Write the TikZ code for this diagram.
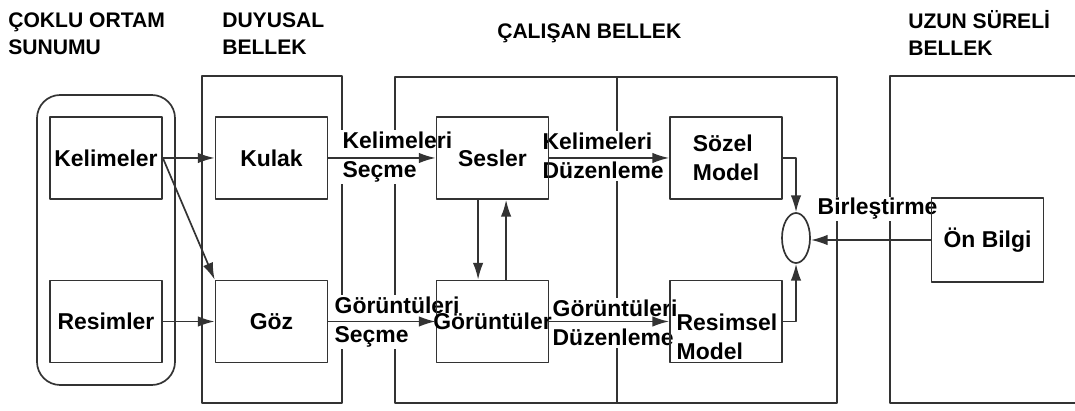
\documentclass[tikz,border=0pt]{standalone}
\usepackage{fontspec}
\setmainfont{Liberation Sans}
\usetikzlibrary{arrows.meta,shapes.geometric}

\begin{document}
\begin{tikzpicture}[x=0.025cm,y=-0.025cm,line join=round,>={Latex[length=12pt,width=7.5pt]}]
	\tikzset{col/.style={draw=black!80,line width=1.2pt},
		arr/.style={->,draw=black!80,line width=1.2pt},
		box/.style={draw=black!80,line width=1.2pt,minimum width=2.8cm,minimum height=2.05cm,inner sep=1pt,align=left,font=\fontsize{16.3}{21}\selectfont\bfseries},
		lbl/.style={fill=white,inner sep=1pt,align=left,anchor=west,font=\fontsize{16.3}{21}\selectfont\bfseries},
		hdr/.style={inner sep=0pt,align=left,anchor=west,font=\fontsize{15}{19.2}\selectfont\bfseries}}
	\clip (0,0) rectangle (1075,411);
	% headers
	\node[hdr] (coklu) at (8,34) {ÇOKLU ORTAM\\SUNUMU};
	\node[hdr] (duyusal) at (222,34) {DUYUSAL\\BELLEK};
	\node[hdr] (calisan) at (497,33) {ÇALIŞAN BELLEK};
	\node[hdr] (uzun) at (908,33) {UZUN SÜRELİ\\BELLEK};
	% columns
	\draw[col,rounded corners=0.58cm] (37,95) rectangle (175,385);
	\draw[col] (202,76) rectangle (342,403);
	\draw[col] (395,77) rectangle (837,403);
	\draw[col] (617,77)--(617,403);
	\draw[col] (890,76) rectangle (1090,403);
	% labels on the arrows
	\node[lbl] (kelsec) at (341,157) {Kelimeleri\\Seçme};
	\node[lbl] (gorsec) at (333,322) {Görüntüleri\\Seçme};
	\node[lbl] (keldz) at (541,156) {Kelimeleri\\Düzenleme};
	\node[lbl] (gordz) at (551,323) {Görüntüleri\\Düzenleme};
	\node[lbl] (birles) at (816,209) {Birleştirme};
	% boxes
	\node[box] (kelimeler) at (106,158) {Kelimeler};
	\node[box] (resimler) at (106,321.5) {Resimler};
	\node[box] (kulak) at (271.5,158) {Kulak};
	\node[box] (goz) at (271.5,321.5) {Göz};
	\node[box] (sesler) at (492.5,158) {Sesler};
	\node[box] (goruntuler) at (492.5,321.5) {\makebox[2.6cm]{Görüntüler}};
	\node[box] (sozel) at (726,158) {Sözel\\Model};
	\node[box] (resimsel) at (726,321.5) {};
	\node[inner sep=0pt,align=left,font=\fontsize{16.3}{21}\selectfont\bfseries] (resimseltxt) at (727,337) {Resimsel\\Model};
	\node[box,minimum height=2.1cm] (onbilgi) at (987.5,240) {Ön Bilgi};
	\node[draw=black!80,line width=1.2pt,ellipse,fill=white,minimum width=0.7cm,minimum height=1.25cm,inner sep=0pt] (birl) at (796,238) {};
	% arrows
	\draw[arr] (kelimeler.east)--(kulak.west);
	\draw[arr] (kelimeler.east)--(goz.north west);
	\draw[arr] (resimler.east)--(goz.west);
	\draw[arr] (kulak.east)--(sesler.west);
	\draw[arr] (goz.east)--(goruntuler.west);
	\draw[arr] ([xshift=-0.36cm]sesler.south)--([xshift=-0.36cm]goruntuler.north);
	\draw[arr] ([xshift=0.34cm]goruntuler.north)--([xshift=0.34cm]sesler.south);
	\draw[arr] (sesler.east)--(sozel.west);
	\draw[arr] (goruntuler.east)--(resimsel.west);
	\draw[arr] (sozel.east) -| (birl.north);
	\draw[arr] (resimsel.east) -| (birl.south);
	\draw[arr] (onbilgi.west) -- (onbilgi.west -| birl.east);
\end{tikzpicture}
\end{document}
